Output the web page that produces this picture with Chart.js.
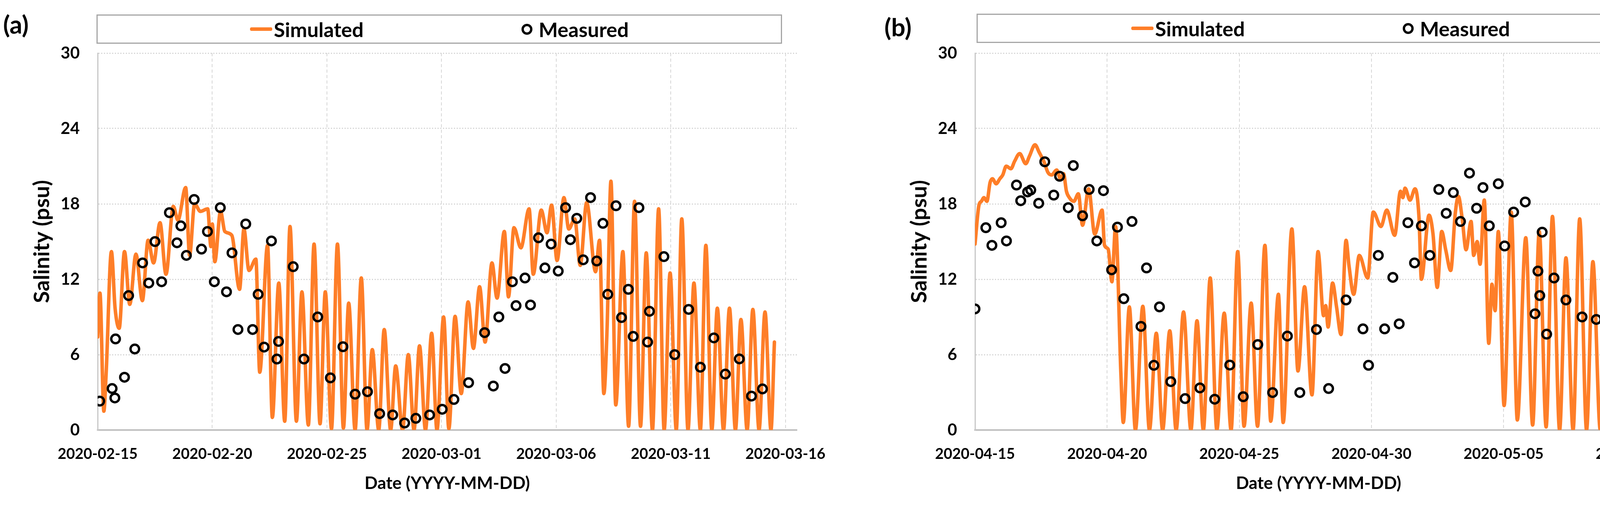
<!DOCTYPE html>
<html>
<head>
<meta charset="utf-8">
<script src="https://cdn.jsdelivr.net/npm/chart.js@4.4.1/dist/chart.umd.min.js"></script>
<style>
html,body{margin:0;padding:0;background:#fff;}
body{width:4331px;height:1293px;position:relative;overflow:hidden;font-family:Lato,'Open Sans',sans-serif;}
.panel{position:absolute;top:0;width:2165px;height:1293px;}
.panel canvas{position:absolute;left:0;top:0;}
.tag{position:absolute;font:bold 64px Lato,sans-serif;color:#000;line-height:1;}
.legend{position:absolute;border:3px solid #A6A6A6;box-sizing:border-box;height:75px;background:#fff;}
.item{position:absolute;top:0;height:100%;display:flex;align-items:center;font:bold 52px Lato,sans-serif;color:#000;white-space:nowrap;}
.ln{display:inline-block;width:57px;height:9px;background:#FE7E28;border-radius:4px;margin-right:4px;}
.ring{display:inline-block;width:16px;height:16px;border:6px solid #000;border-radius:50%;margin-right:16px;}
</style>
</head>
<body>
<div class="tag" style="left:8px;top:30px;">(a)</div>
<div class="tag" style="left:2264px;top:37px;">(b)</div>

<div class="legend" style="left:247px;top:37px;width:1755px;">
  <div class="item" style="left:390px;"><span class="ln"></span>Simulated</div>
  <div class="item" style="left:1085px;"><span class="ring"></span>Measured</div>
</div>
<div class="legend" style="left:2500px;top:35px;width:1735px;">
  <div class="item" style="left:393px;"><span class="ln"></span>Simulated</div>
  <div class="item" style="left:1088px;"><span class="ring"></span>Measured</div>
</div>

<div class="panel" style="left:0px;"><canvas id="chartA" width="2165" height="1293"></canvas></div>
<div class="panel" style="left:2166px;"><canvas id="chartB" width="2165" height="1293"></canvas></div>

<script>
// ---------------- DATA ----------------
// x values are days since the first tick date of each panel
const xTickLabelsA = ['2020-02-15','2020-02-20','2020-02-25','2020-03-01','2020-03-06','2020-03-11','2020-03-16'];
const xTickLabelsB = ['2020-04-15','2020-04-20','2020-04-25','2020-04-30','2020-05-05','2020-05-10'];
const yTicks = [0, 6, 12, 18, 24, 30];

// Panel (a) simulated salinity (psu)
const simADays = [0.0,0.1,0.27,0.37,0.6,0.76,0.94,1.17,1.4,1.67,1.95,2.2,2.44,2.72,2.98,3.3,3.5,3.84,4.01,4.23,4.48,4.8,4.94,5.0,5.11,5.36,5.55,5.85,6.19,6.38,6.6,6.9,7.07,7.41,7.62,7.9,8.16,8.39,8.67,8.91,9.19,9.44,9.7,9.93,10.2,10.46,10.72,10.95,11.23,11.5,11.75,11.98,12.26,12.5,12.78,13.0,13.3,13.55,13.8,14.04,14.3,14.57,14.8,15.09,15.32,15.59,15.86,16.16,16.39,16.66,16.9,17.2,17.42,17.74,17.92,18.16,18.46,18.82,19.0,19.35,19.6,19.8,20.04,20.34,20.55,20.81,21.05,21.33,21.72,21.89,22.08,22.22,22.39,22.6,22.91,23.16,23.42,23.68,23.93,24.2,24.47,24.71,24.97,25.24,25.48,25.75,26.01,26.29,26.53,26.79,27.03,27.3,27.56,27.82,28.06,28.33,28.58,28.85,29.11,29.37,29.52];
const simAValues = [7.4,10.9,1.5,4.5,14.2,9.7,8.1,14.2,10.0,14.0,10.3,15.1,13.3,16.5,12.4,17.8,16.7,19.3,13.9,18.0,17.4,17.6,14.6,16.4,13.4,17.4,15.8,15.5,11.2,16.0,12.7,13.6,4.6,14.7,1.0,11.7,0.7,16.2,0.7,11.0,0.4,14.8,0.5,11.0,0.1,14.8,0.15,10.1,0,12.1,0,6.4,0,8.0,0,5.1,0,6.0,0,6.7,0,7.7,0,9.0,0.1,9.05,2.9,10.2,6.5,11.4,7.0,13.3,10.5,15.8,10.6,16.1,14.5,17.6,12.4,17.5,15.7,17.9,13.5,18.5,16.0,16.8,13.1,18.1,12.6,15.1,2.9,8.0,19.8,2.0,14.2,0.3,18.2,0.3,14.1,0,17.6,0,12.5,0,16.8,0,11.7,0,14.7,0,9.7,0,9.7,0,8.8,0,9.6,0,9.4,0,7.0];

// Panel (a) measured salinity (psu)
const measADays = [0.09,0.63,0.75,0.78,1.17,1.35,1.62,1.96,2.23,2.5,2.79,3.13,3.46,3.63,3.87,4.21,4.53,4.79,5.09,5.35,5.62,5.86,6.12,6.46,6.76,7.0,7.26,7.58,7.82,7.89,8.53,9.0,9.6,10.15,10.7,11.23,11.77,12.3,12.87,13.39,13.88,14.48,15.03,15.54,16.18,16.88,17.26,17.5,17.77,18.09,18.25,18.64,18.88,19.23,19.51,19.78,20.09,20.41,20.62,20.9,21.18,21.5,21.77,22.04,22.25,22.61,22.85,23.15,23.36,23.61,23.99,24.07,24.7,25.17,25.78,26.29,26.88,27.38,27.99,28.52,29.0];
const measAValues = [2.3,3.3,2.55,7.25,4.2,10.7,6.45,13.3,11.7,15.0,11.8,17.3,14.9,16.25,13.9,18.35,14.4,15.8,11.8,17.7,11.0,14.1,8.0,16.4,8.0,10.8,6.6,15.05,5.65,7.05,13.0,5.65,9.0,4.15,6.63,2.85,3.05,1.3,1.2,0.56,0.93,1.2,1.65,2.43,3.77,7.75,3.5,9.0,4.9,11.8,9.9,12.1,9.95,15.3,12.9,14.8,12.65,17.7,15.15,16.85,13.55,18.5,13.45,16.45,10.8,17.85,8.95,11.2,7.45,17.7,7.0,9.45,13.8,6.0,9.6,5.0,7.33,4.45,5.66,2.7,3.27];

// Panel (b) simulated salinity (psu)
const simBDays = [0.0,0.15,0.24,0.34,0.45,0.57,0.66,0.8,0.94,1.05,1.18,1.36,1.5,1.69,1.92,2.06,2.27,2.43,2.62,2.76,2.9,3.09,3.23,3.35,3.46,3.57,3.74,3.91,4.07,4.3,4.53,4.81,4.9,5.04,5.18,5.32,5.52,5.61,5.84,6.07,6.35,6.6,6.86,7.1,7.37,7.61,7.89,8.17,8.4,8.64,8.9,9.15,9.43,9.69,9.94,10.18,10.45,10.69,10.97,11.19,11.48,11.66,11.99,12.22,12.47,12.75,12.98,13.19,13.27,13.36,13.53,13.68,13.85,14.04,14.15,14.33,14.54,14.86,15.07,15.36,15.58,15.88,16.1,16.19,16.27,16.46,16.65,16.8,16.89,17.18,17.33,17.49,17.66,17.81,18.0,18.17,18.29,18.43,18.58,18.77,18.87,19.0,19.11,19.27,19.44,19.56,19.68,19.8,20.02,20.29,20.52,20.84,21.1,21.35,21.61,21.85,22.12,22.36,22.63,22.88,23.14,23.38,23.66,23.91,24.16,24.42,24.69,24.95,25.18,25.45,25.71,25.96];
const simBValues = [14.8,17.9,18.2,18.5,18.2,19.7,20.0,19.6,20.0,20.3,21.0,20.8,21.4,22.0,21.2,21.8,22.7,22.1,21.3,20.5,20.3,20.7,20.0,20.4,19.0,18.5,18.2,18.8,16.3,19.2,15.6,17.5,14.7,14.4,11.8,16.2,4.5,0.6,9.8,0,9.85,0,7.7,0,7.9,0,9.4,0,8.7,0,12.1,0,9.3,0,14.2,0.3,10.1,0.3,14.7,0.7,10.8,0.6,16.0,4.7,11.4,2.8,14.2,9.1,9.9,8.2,11.7,9.8,7.6,15.1,13.1,10.8,13.9,12.1,17.35,16.2,17.5,15.5,19.0,18.5,19.25,18.3,19.2,16.9,12.0,17.1,15.6,11.35,15.8,14.35,12.7,17.2,18.6,16.9,14.35,16.6,13.9,15.0,13.2,18.3,6.9,11.6,9.5,15.8,1.95,17.35,0.8,15.3,0.4,15.8,0.25,17.0,0,13.7,0,16.8,0,13.4,0,17.0,0,12.45,0,14.2,0,7.2,0,12.6];

// Panel (b) measured salinity (psu)
const measBDays = [0.0,0.41,0.64,0.99,1.19,1.57,1.73,1.99,2.11,2.41,2.64,2.98,3.2,3.53,3.72,4.07,4.32,4.61,4.86,5.17,5.39,5.63,5.94,6.28,6.49,6.77,6.98,7.41,7.95,8.51,9.07,9.64,10.15,10.7,11.26,11.82,12.29,12.92,13.38,14.04,14.68,14.89,15.26,15.5,15.81,16.05,16.38,16.63,16.89,17.21,17.55,17.83,18.1,18.37,18.71,18.98,19.22,19.46,19.8,20.04,20.38,20.82,21.19,21.3,21.37,21.46,21.63,21.91,22.36,22.97,23.51,24.09,24.63,25.18,25.72];
const measBValues = [9.64,16.1,14.7,16.5,15.05,19.5,18.25,18.95,19.1,18.05,21.35,18.7,20.2,17.7,21.05,17.05,19.15,15.05,19.05,12.75,16.15,10.45,16.6,8.25,12.9,5.15,9.8,3.85,2.5,3.35,2.45,5.17,2.65,6.8,2.98,7.48,2.98,8.0,3.3,10.35,8.05,5.15,13.9,8.05,12.15,8.45,16.5,13.3,16.25,13.9,19.15,17.25,18.9,16.6,20.45,17.65,19.3,16.25,19.6,14.65,17.35,18.15,9.25,12.65,10.7,15.75,7.63,12.1,10.35,9.0,8.8,5.95,7.9,6.0,7.08];

// ---------------- STYLE ----------------
const ORANGE = '#FE7E28';
const FONT = 'Lato, "Open Sans", sans-serif';

function pts(xs, ys) { return xs.map((d, i) => ({ x: d, y: ys[i] })); }

function makeChart(id, simD, simV, measD, measV, xMax, tickLabels, padL, padR) {
  return new Chart(document.getElementById(id), {
    type: 'scatter',
    data: {
      datasets: [
        {
          label: 'Measured',
          data: pts(measD, measV),
          pointStyle: 'circle',
          pointRadius: 11,
          pointHoverRadius: 11,
          pointBorderWidth: 6,
          borderColor: '#000000',
          backgroundColor: 'rgba(0,0,0,0)',
          order: 0
        },
        {
          label: 'Simulated',
          data: pts(simD, simV),
          showLine: true,
          pointRadius: 0,
          pointHoverRadius: 0,
          borderColor: ORANGE,
          backgroundColor: ORANGE,
          borderWidth: 9,
          cubicInterpolationMode: 'monotone',
          borderJoinStyle: 'round',
          borderCapStyle: 'round',
          order: 1
        }
      ]
    },
    options: {
      responsive: false,
      animation: false,
      devicePixelRatio: 1,
      events: [],
      layout: { padding: { left: padL, right: padR, top: 136, bottom: 29 } },
      plugins: { legend: { display: false }, tooltip: { enabled: false } },
      scales: {
        x: {
          type: 'linear',
          min: 0,
          max: xMax,
          afterFit: s => { s.height = 163; },
          ticks: {
            stepSize: 5,
            includeBounds: false,
            autoSkip: false,
            maxRotation: 0,
            padding: 39,
            color: '#000',
            font: { family: FONT, weight: 'bold', size: 38 },
            callback: v => { const k = v / 5; return Number.isInteger(k) && tickLabels[k] !== undefined ? tickLabels[k] : ''; }
          },
          grid: { color: '#D6D6D6', lineWidth: 2, drawTicks: false },
          border: { display: true, color: '#BFBFBF', width: 4, dash: [8, 6] },
          title: { display: true, text: 'Date (YYYY-MM-DD)', color: '#000', padding: 0,
                   font: { family: FONT, weight: 'bold', size: 44, lineHeight: 1.2 } }
        },
        y: {
          min: yTicks[0],
          max: yTicks[yTicks.length - 1],
          afterFit: s => { s.width = 176; },
          afterBuildTicks: s => { s.ticks = yTicks.map(v => ({ value: v })); },
          ticks: {
            padding: 46,
            color: '#000',
            font: { family: FONT, weight: 'bold', size: 42 }
          },
          grid: { color: '#D6D6D6', lineWidth: 3, drawTicks: false },
          border: { display: true, color: '#C8C8C8', width: 3, dash: [3, 4] },
          title: { display: true, text: 'Salinity (psu)', color: '#000', padding: 0,
                   font: { family: FONT, weight: 'bold', size: 56, lineHeight: 1.2 } }
        }
      }
    }
  });
}

function drawAll() {
  makeChart('chartA', simADays, simAValues, measADays, measAValues, 30.5, xTickLabelsA, 74, 125);
  makeChart('chartB', simBDays, simBValues, measBDays, measBValues, 26, xTickLabelsB, 154, 58);
}
if (document.fonts && document.fonts.load) {
  Promise.all([document.fonts.load('bold 40px Lato'), document.fonts.load('40px Lato')]).then(drawAll, drawAll);
} else { drawAll(); }
</script>
</body>
</html>
